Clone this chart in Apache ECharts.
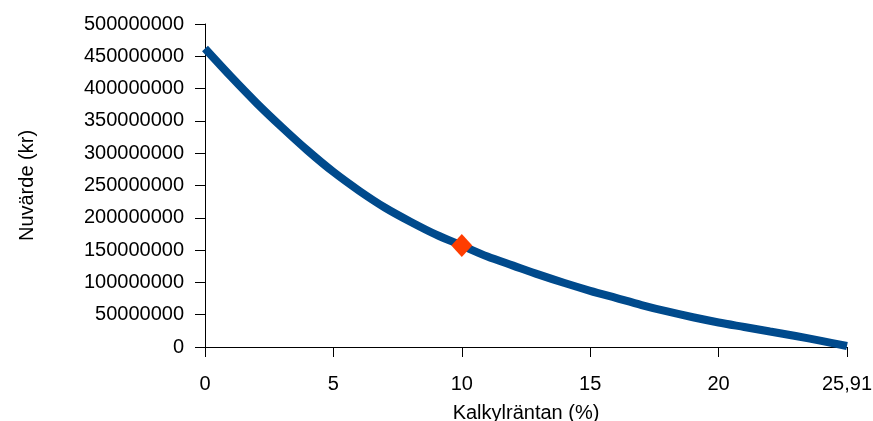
<!DOCTYPE html>
<html>
<head>
<meta charset="utf-8">
<script src="https://cdn.jsdelivr.net/npm/echarts@6/dist/echarts.min.js"></script>
<style>
  html, body { margin: 0; padding: 0; background: #fff; }
  #npv-chart { width: 873px; height: 421px; }
</style>
</head>
<body>
<div id="npv-chart"></div>
<script>
// kalkylräntor (kategorier), sista punkten = internräntan
const rates = ['0', '1', '2', '3', '4', '5', '6', '7', '8', '9', '10', '11', '12',
  '13', '14', '15', '16', '17', '18', '19', '20', '21', '22', '23', '24', '25,91'];
// nuvärde per ränta (kr)
const npvValues = [462000000, 419000000, 378000000, 340000000, 304000000, 271000000,
  242000000, 216000000, 194000000, 174000000, 157000000, 140000000, 126000000,
  112000000, 99000000, 87000000, 76000000, 65000000, 55000000, 46000000, 38000000,
  31000000, 24000000, 17000000, 9500000, 1500000];
// markerad punkt vid 10 %
const markerRate = '10';
const markerValue = 157000000;

const chart = echarts.init(document.getElementById('npv-chart'));

const font = 'Liberation Sans, Arial, sans-serif';

const option = {
  animation: false,
  grid: {
    left: 205,
    right: 26,
    top: 24,
    bottom: 74,
    outerBoundsMode: 'none'
  },
  xAxis: {
    type: 'category',
    data: rates,
    boundaryGap: false,
    name: 'Kalkylräntan (%)',
    nameLocation: 'middle',
    nameGap: 56,
    nameTextStyle: { color: '#000', fontSize: 20, fontFamily: font },
    axisLine: { lineStyle: { color: '#000', width: 1 } },
    axisTick: { interval: 4, length: 10, lineStyle: { color: '#000' } },
    axisLabel: { interval: 4, margin: 27, color: '#000', fontSize: 20, fontFamily: font },
    splitLine: { show: false }
  },
  yAxis: {
    type: 'value',
    min: 0,
    max: 500000000,
    interval: 50000000,
    name: 'Nuvärde (kr)',
    nameLocation: 'middle',
    nameGap: 168,
    nameTextStyle: { color: '#000', fontSize: 20, fontFamily: font },
    axisLine: { show: true, lineStyle: { color: '#000', width: 1 } },
    axisTick: { show: true, length: 10, lineStyle: { color: '#000' } },
    axisLabel: {
      margin: 21,
      color: '#000',
      fontSize: 20,
      fontFamily: font,
      formatter: v => String(v)
    },
    splitLine: { show: false }
  },
  series: [
    {
      name: 'Nuvärde',
      type: 'line',
      data: npvValues,
      smooth: 0.3,
      showSymbol: false,
      lineStyle: { color: '#004A8C', width: 8 },
      z: 2
    },
    {
      name: 'Markering',
      type: 'scatter',
      data: [[markerRate, markerValue]],
      symbol: 'diamond',
      symbolSize: [21, 23],
      itemStyle: { color: '#FF3D00', opacity: 1 },
      z: 3
    }
  ]
};

chart.setOption(option);
</script>
</body>
</html>
